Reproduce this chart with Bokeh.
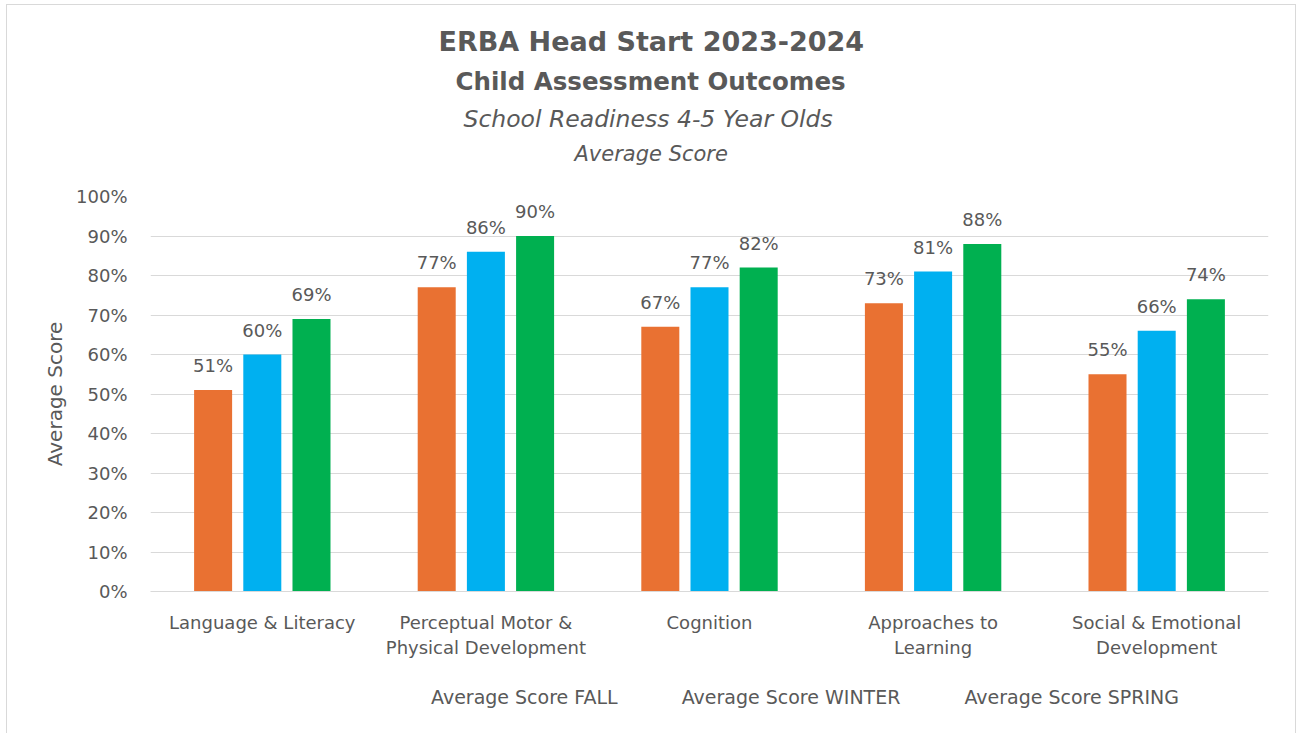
from bokeh.plotting import figure
from bokeh.layouts import column
from bokeh.models import Title, Legend, LegendItem, FixedTicker, ColumnDataSource, NumeralTickFormatter
from bokeh.core.properties import value
from bokeh.embed import file_html
from bokeh.resources import INLINE

categories = ["Language & Literacy", "Perceptual Motor &\nPhysical Development", "Cognition",
              "Approaches to\nLearning", "Social & Emotional\nDevelopment"]
fall = [0.51, 0.77, 0.67, 0.73, 0.55]
winter = [0.60, 0.86, 0.77, 0.81, 0.66]
spring = [0.69, 0.90, 0.82, 0.88, 0.74]
series_names = ["Average Score FALL", "Average Score WINTER", "Average Score SPRING"]
colors = ["#E97132", "#00B0F0", "#00B050"]

FONT = "DejaVu Sans"
GREY = "#595959"

p = figure(frame_width=1118, frame_height=395, x_range=(0, 5), y_range=(0, 1.0),
           output_backend="svg", toolbar_location=None,
           min_border_left=143, min_border_right=27, min_border_top=191, min_border_bottom=80)
p.title = None
p.outline_line_color = None
p.background_fill_color = "white"
p.border_fill_color = "white"

offsets = [-0.22, 0.0, 0.22]
for k, vals in enumerate([fall, winter, spring]):
    xs = [i + 0.5 + offsets[k] for i in range(len(categories))]
    src = ColumnDataSource(dict(x=xs, top=vals, lab=[f"{round(v*100)}%" for v in vals]))
    p.vbar(x="x", top="top", width=0.17, bottom=0, source=src, fill_color=colors[k], line_color=None)
    p.text(x="x", y="top", text="lab", source=src, text_align="center", text_baseline="bottom",
           y_offset=-14, text_font_size="18px", text_color=GREY, text_font=value(FONT))

p.xaxis.ticker = FixedTicker(ticks=[i + 0.5 for i in range(len(categories))])
p.xaxis.major_label_overrides = {i + 0.5: c for i, c in enumerate(categories)}
p.xaxis.major_tick_line_color = None
p.xaxis.minor_tick_line_color = None
p.xaxis.major_tick_out = 0
p.xaxis.axis_line_color = "#d9d9d9"
p.xaxis.major_label_text_font = FONT
p.xaxis.major_label_text_font_size = "18px"
p.xaxis.major_label_text_color = GREY
p.xaxis.major_label_standoff = 20
p.xgrid.grid_line_color = None

p.yaxis.ticker = FixedTicker(ticks=[i / 10 for i in range(11)])
p.yaxis.formatter = NumeralTickFormatter(format="0%")
p.yaxis.axis_line_color = None
p.yaxis.major_tick_line_color = None
p.yaxis.minor_tick_line_color = None
p.yaxis.major_label_text_font = FONT
p.yaxis.major_label_text_font_size = "18px"
p.yaxis.major_label_standoff = 17
p.yaxis.major_label_text_color = GREY
p.yaxis.axis_label = "Average Score"
p.yaxis.axis_label_text_font = FONT
p.yaxis.axis_label_text_font_size = "20px"
p.yaxis.axis_label_text_font_style = "normal"
p.yaxis.axis_label_text_color = GREY
p.yaxis.axis_label_standoff = 6
p.ygrid.grid_line_color = "#d9d9d9"

# spacer between plot and titles
p.add_layout(Title(text=" ", text_font_size="10px", standoff=14), "above")
# titles: added from the one nearest the plot outward
titles = [
    ("Average Score", "21px", "italic", 424, 7),
    ("School Readiness 4-5 Year Olds", "23.5px", "italic", 313, 7),
    ("Child Assessment Outcomes", "24.5px", "bold", 305, 7),
    ("ERBA Head Start 2023-2024", "27px", "bold", 288, 9),
]
for txt, fs, st, off, so in titles:
    p.add_layout(Title(text=txt, align="left", offset=off, standoff=so, text_font=FONT,
                       text_font_size=fs, text_font_style=st, text_color=GREY), "above")

# legend strip below the chart
lf = figure(width=1288, height=70, x_range=(0, 1), y_range=(0, 1),
            output_backend="svg", toolbar_location=None,
            min_border_left=0, min_border_right=0, min_border_top=0, min_border_bottom=0)
lf.title = None
lf.axis.visible = False
lf.grid.grid_line_color = None
lf.outline_line_color = None
lf.background_fill_color = "white"
lf.border_fill_color = "white"
swatches = [lf.vbar(x=[], top=[], width=0.1, fill_color=c, line_color=None) for c in colors]
legend = Legend(items=[LegendItem(label=n, renderers=[r]) for n, r in zip(series_names, swatches)],
                orientation="horizontal", location=(265, 33),
                glyph_width=10, glyph_height=10, label_standoff=6, spacing=48,
                label_text_font=FONT, label_text_font_size="19px", label_text_color=GREY,
                border_line_color=None, background_fill_alpha=0, padding=0, margin=0)
lf.add_layout(legend, "center")

layout = column(p, lf, spacing=0)
layout.margin = (4, 0, 0, 6)
layout.styles = {"border": "1px solid #d9d9d9"}

open("out.html", "w").write(file_html(layout, INLINE))
